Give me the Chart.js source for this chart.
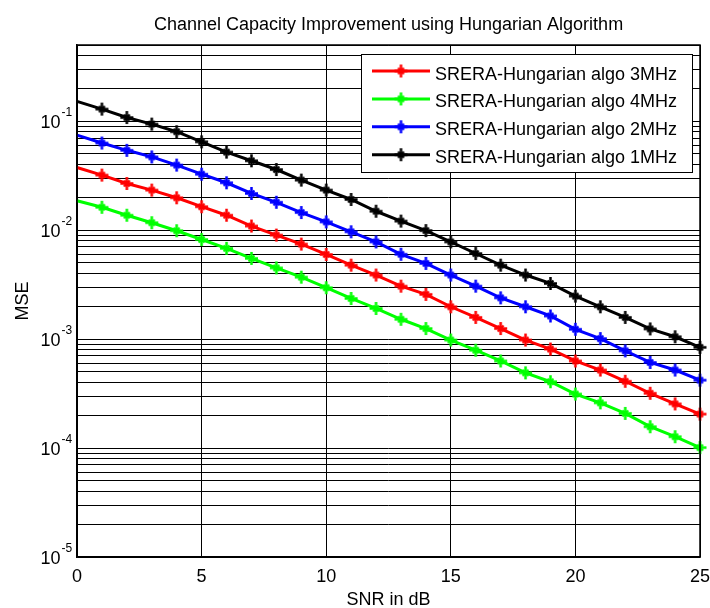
<!DOCTYPE html>
<html>
<head>
<meta charset="utf-8">
<script src="https://cdn.jsdelivr.net/npm/chart.js@4.4.1/dist/chart.umd.min.js"></script>
<style>
  body { margin: 0; background: #fff; }
  canvas { display: block; }
</style>
</head>
<body>
<canvas id="mseChart" width="710" height="608"></canvas>
<script>
const snr = [0, 1, 2, 3, 4, 5, 6, 7, 8, 9, 10, 11, 12, 13, 14, 15, 16, 17, 18, 19, 20, 21, 22, 23, 24, 25];

const mse3MHz = [0.0376, 0.032, 0.0268, 0.0233, 0.0198, 0.0164, 0.0137, 0.0109, 0.0090, 0.00744, 0.00598, 0.00477, 0.00387,
    0.00306, 0.00257, 0.00198, 0.00158, 0.00125, 0.00098, 0.00081, 0.00063, 0.00052, 0.00041, 0.000318, 0.000254, 0.000205];
const mse4MHz = [0.0186, 0.0162, 0.0137, 0.0117, 0.00987, 0.0082, 0.0068, 0.0055, 0.0045, 0.0037, 0.00296, 0.00236, 0.00191,
    0.00152, 0.00125, 0.00098, 0.00079, 0.00063, 0.00049, 0.000406, 0.000313, 0.00026, 0.000208, 0.000157, 0.000127, 0.000101];
const mse2MHz = [0.0745, 0.063, 0.054, 0.047, 0.0395, 0.0326, 0.0272, 0.0217, 0.018, 0.0145, 0.0119, 0.00965, 0.0078,
    0.0060, 0.00495, 0.00387, 0.00306, 0.00239, 0.00198, 0.00163, 0.00123, 0.00101, 0.00078, 0.00061, 0.00052, 0.00042];
const mse1MHz = [0.152, 0.129, 0.108, 0.094, 0.080, 0.0646, 0.052, 0.0433, 0.036, 0.0288, 0.0233, 0.0191, 0.0149,
    0.0121, 0.0099, 0.0078, 0.0061, 0.00477, 0.00387, 0.00324, 0.00248, 0.00198, 0.00158, 0.00124, 0.00105, 0.00084];

const seriesLabels = [
    "SRERA-Hungarian algo 3MHz",
    "SRERA-Hungarian algo 4MHz",
    "SRERA-Hungarian algo 2MHz",
    "SRERA-Hungarian algo 1MHz",
];

const xTicks = [0, 5, 10, 15, 20, 25];
const yDecades = [1e-5, 1e-4, 1e-3, 1e-2, 1e-1];
const yExponents = ["-5", "-4", "-3", "-2", "-1"];
const yMultiples = [1, 2, 3, 4, 5, 6, 7, 8, 9];

const titleText = "Channel Capacity Improvement using Hungarian Algorithm";
const xTitle = "SNR in dB";
const yTitle = "MSE";

const FONT = "'Liberation Sans', Arial, sans-serif";

// all grid values 1..9 x each decade, up to 0.5
const yGrid = [];
yDecades.forEach((d) => {
    yMultiples.forEach((m) => {
        const v = +(m * d).toPrecision(3);
        if (v <= 0.5) yGrid.push(v);
    });
});

// matlab-ish '*' marker: bold plus with a fat middle
function makeMarker(color) {
    const m = document.createElement("canvas");
    m.width = 15;
    m.height = 15;
    const g = m.getContext("2d");
    g.strokeStyle = color;
    g.fillStyle = color;
    g.lineWidth = 2.5;
    g.beginPath();
    g.moveTo(7.5, 1);
    g.lineTo(7.5, 14);
    g.moveTo(1, 7.5);
    g.lineTo(14, 7.5);
    g.stroke();
    g.lineWidth = 2;
    g.beginPath();
    g.moveTo(4.5, 4.5);
    g.lineTo(10.5, 10.5);
    g.moveTo(10.5, 4.5);
    g.lineTo(4.5, 10.5);
    g.stroke();
    g.fillRect(5, 5, 5, 5);
    return m;
}

function toPoints(vals) {
    return snr.map((s, i) => ({ x: s, y: vals[i] }));
}

// no marker at snr 0, line only
const markerRadius = snr.map((s) => (s === 0 ? 0 : 6));

function makeSet(label, vals, color) {
    const marker = makeMarker(color);
    return {
        label: label,
        data: toPoints(vals),
        borderColor: color,
        backgroundColor: color,
        borderWidth: 3,
        pointStyle: snr.map((s) => (s === 0 ? false : marker)),
        marker: marker,
        pointRadius: markerRadius,
        pointHoverRadius: 6,
        tension: 0,
        fill: false,
        clip: false,
    };
}

const textPlugin = {
    id: "matlabText",
    afterDraw(chart) {
        const c = chart.ctx;
        const area = chart.chartArea;
        const xs = chart.scales.x;
        const ys = chart.scales.y;
        c.save();

        // box round the axes
        c.strokeStyle = "#000";
        c.lineWidth = 1.5;
        c.strokeRect(area.left, area.top, area.right - area.left, area.bottom - area.top);

        c.fillStyle = "#000";
        // title
        c.font = "18px " + FONT;
        c.textAlign = "center";
        c.textBaseline = "alphabetic";
        c.fillText(titleText, (area.left + area.right) / 2, 30);

        // x tick labels
        xTicks.forEach((t) => {
            c.fillText(String(t), xs.getPixelForValue(t), 581.5);
        });
        c.fillText(xTitle, (area.left + area.right) / 2, 605);

        // y tick labels with superscripts
        yDecades.forEach((d, i) => {
            const py = ys.getPixelForValue(d);
            c.font = "18px " + FONT;
            c.textAlign = "right";
            c.fillText("10", 60.5, py + 6.5);
            c.font = "12px " + FONT;
            c.textAlign = "left";
            c.fillText(yExponents[i], 61.5, py - 5);
        });

        // y title
        c.save();
        c.translate(28, (area.top + area.bottom) / 2);
        c.rotate(-Math.PI / 2);
        c.font = "18px " + FONT;
        c.textAlign = "center";
        c.fillText(yTitle, 0, 0);
        c.restore();

        // legend box
        const lx = 361, ly = 54, lw = 331, lh = 118;
        c.fillStyle = "#fff";
        c.fillRect(lx, ly, lw, lh);
        c.strokeStyle = "#000";
        c.lineWidth = 1;
        c.strokeRect(lx + 0.5, ly + 0.5, lw, lh);

        chart.data.datasets.forEach((ds, i) => {
            const rowY = 71 + i * 27.9;
            c.strokeStyle = ds.borderColor;
            c.lineWidth = 3;
            c.beginPath();
            c.moveTo(372, rowY);
            c.lineTo(430, rowY);
            c.stroke();
            c.drawImage(ds.marker, 401 - 7.5, rowY - 7.5);
            c.fillStyle = "#000";
            c.font = "18px " + FONT;
            c.textAlign = "left";
            c.fillText(ds.label, 435, rowY + 8.5);
        });

        c.restore();
    },
};

const ctx = document.getElementById("mseChart").getContext("2d");
const mseChart = new Chart(ctx, {
    type: "line",
    data: {
        datasets: [
            makeSet(seriesLabels[0], mse3MHz, "#ff0000"),
            makeSet(seriesLabels[1], mse4MHz, "#00ff00"),
            makeSet(seriesLabels[2], mse2MHz, "#0000ff"),
            makeSet(seriesLabels[3], mse1MHz, "#000000"),
        ],
    },
    options: {
        responsive: false,
        animation: false,
        layout: {
            padding: { top: 45, right: 10, left: 0, bottom: 0 },
        },
        plugins: {
            legend: { display: false },
            title: { display: false },
            tooltip: { enabled: false },
        },
        scales: {
            x: {
                type: "linear",
                min: 0,
                max: 25,
                afterBuildTicks: (scale) => {
                    scale.ticks = xTicks.map((v) => ({ value: v }));
                },
                afterFit: (scale) => {
                    scale.height = 51;
                },
                ticks: { display: false, autoSkip: false },
                grid: { color: "#000", lineWidth: 1, drawTicks: false },
                border: { display: true, color: "#000", width: 1.5 },
            },
            y: {
                type: "logarithmic",
                min: 1e-5,
                max: 0.5,
                afterBuildTicks: (scale) => {
                    scale.ticks = yGrid.map((v) => ({ value: v }));
                },
                afterFit: (scale) => {
                    scale.width = 77;
                },
                ticks: { display: false, autoSkip: false },
                grid: { color: "#000", lineWidth: 1, drawTicks: false },
                border: { display: true, color: "#000", width: 1.5 },
            },
        },
    },
    plugins: [textPlugin],
});
</script>
</body>
</html>
